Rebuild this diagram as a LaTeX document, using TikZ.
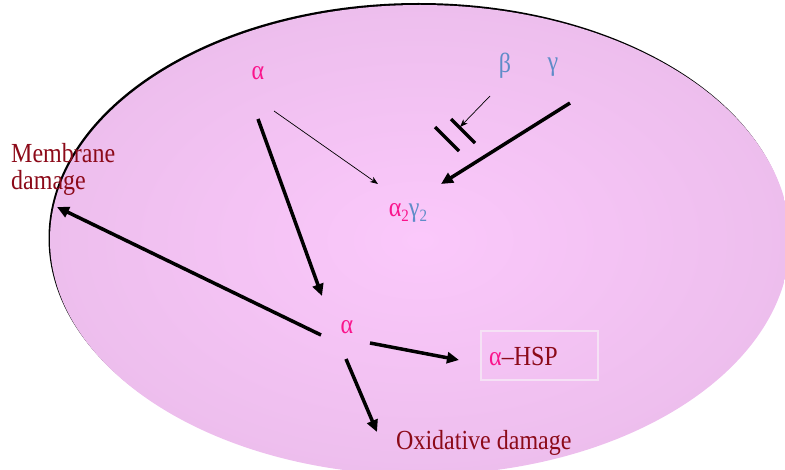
\documentclass[tikz,border=0pt]{standalone}
\usepackage{fontspec}
\setmainfont{Liberation Serif}
\usetikzlibrary{arrows.meta}
\definecolor{apink}{RGB}{250,20,140}
\definecolor{gblue}{RGB}{95,140,200}
\definecolor{dred}{RGB}{140,10,25}
\definecolor{cin}{RGB}{251,200,251}
\definecolor{cout}{RGB}{226,182,226}
\definecolor{boxc}{RGB}{245,225,245}
\pgfdeclareradialshading{cellshade}{\pgfpoint{0bp}{0bp}}{color(0bp)=(cin); color(45bp)=(cout); color(80bp)=(cout)}
\newcommand\mysub[1]{\raisebox{-0.35ex}{\fontsize{15}{15}\selectfont #1}}
\newcommand\tall[1]{\scalebox{1}[1.15]{#1}}
\tikzset{
  lbl/.style={inner sep=0pt, font=\fontsize{24}{28}\selectfont},
  thickarr/.style={line width=3.5pt, -{Triangle[length=12pt,width=11pt]}},
  thinarr/.style={line width=0.7pt, -{Stealth[length=8pt,width=6pt]}},
  bar/.style={line width=3.5pt}
}
\begin{document}
\begin{tikzpicture}[x=1pt,y=-1pt]
\useasboundingbox (0,0) rectangle (785,470);
\clip (0,0) rectangle (785,470);
% cell
\fill[black] (418.5,238) ellipse [x radius=370, y radius=235];
\shade[shading=cellshade] (420,240) ellipse [x radius=370, y radius=235];
% labels
\node[lbl, text=apink] (a1) at (258,73) {\tall{α}};
\node[lbl, text=gblue] (beta) at (505,66) {\tall{β}};
\node[lbl, text=gblue] (gamma) at (553,67) {\tall{γ}};
\node[lbl] (ag) at (408,213) {\tall{\textcolor{apink}{α\mysub{2}}\textcolor{gblue}{γ\mysub{2}}}};
\node[lbl, text=apink] (a2) at (347,327) {\tall{α}};
\node[draw=boxc, line width=1.2pt, minimum width=117pt, minimum height=49pt, inner sep=0pt] (hspbox) at (539.5,355.5) {};
\node[lbl, anchor=west] (hsp) at (489,356) {\tall{\textcolor{apink}{α}\textcolor{dred}{–HSP}}};
\node[lbl, text=dred, anchor=base west] (mem1) at (11,163) {\tall{Membrane}};
\node[lbl, text=dred, anchor=base west] (mem2) at (11,190) {\tall{damage}};
\node[lbl, text=dred, anchor=west] (oxi) at (396,443) {\tall{Oxidative damage}};
% connector end points
\coordinate (p1s) at (258,119); \coordinate (p1e) at (322,296);
\coordinate (p2s) at (274,111); \coordinate (p2e) at (378,184);
\coordinate (p3s) at (490,96);  \coordinate (p3e) at (460,127);
\coordinate (p4s) at (570,103); \coordinate (p4e) at (441,184);
\coordinate (p5s) at (321,335); \coordinate (p5e) at (57,207);
\coordinate (p6s) at (370,343); \coordinate (p6e) at (459,360);
\coordinate (p7s) at (346,359); \coordinate (p7e) at (377,432);
\coordinate (b1s) at (435,127); \coordinate (b1e) at (459,151);
\coordinate (b2s) at (451,119); \coordinate (b2e) at (475,143);
% connectors
\draw[thickarr] (p1s) -- (p1e);
\draw[thinarr] (p2s) -- (p2e);
\draw[thinarr] (p3s) -- (p3e);
\draw[thickarr] (p4s) -- (p4e);
\draw[thickarr] (p5s) -- (p5e);
\draw[thickarr] (p6s) -- (p6e);
\draw[thickarr] (p7s) -- (p7e);
\draw[bar] (b1s) -- (b1e);
\draw[bar] (b2s) -- (b2e);
\end{tikzpicture}
\end{document}
